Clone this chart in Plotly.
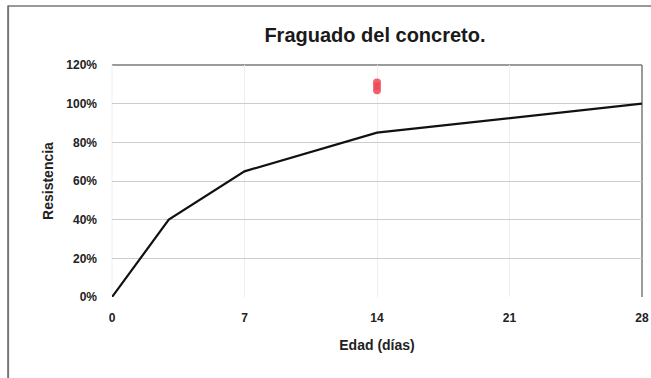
import plotly.graph_objects as go

# Data
edad_dias = [0, 3, 7, 14, 28]
resistencia = [0.0, 0.40, 0.65, 0.85, 1.00]
ensayo_edad = [14, 14, 14]
ensayo_resistencia = [1.07, 1.09, 1.11]
x_ticks = [0, 7, 14, 21, 28]
y_ticks = [0, 0.2, 0.4, 0.6, 0.8, 1.0, 1.2]
y_tick_labels = ["0%", "20%", "40%", "60%", "80%", "100%", "120%"]

FONT = "Liberation Sans Narrow, Arial Narrow, Liberation Sans, Arial, sans-serif"

fig = go.Figure()
fig.add_trace(go.Scatter(
    x=edad_dias, y=resistencia, mode="lines",
    line=dict(color="#111111", width=2.2),
    showlegend=False, hoverinfo="skip", cliponaxis=False))
fig.add_trace(go.Scatter(
    x=ensayo_edad, y=ensayo_resistencia, mode="markers",
    marker=dict(color="rgba(240,70,85,0.85)", size=8, line=dict(width=0)),
    showlegend=False))

fig.update_layout(
    width=651, height=378,
    margin=dict(l=112, r=9, t=65, b=81, autoexpand=False),
    paper_bgcolor="white", plot_bgcolor="white",
    font=dict(family=FONT, color="#222222"),
    title=dict(text="<b>Fraguado del concreto.</b>", x=0.576, xanchor="center",
               y=0.907, yanchor="middle",
               font=dict(family=FONT, size=20, color="#1a1a1a")),
)
fig.update_xaxes(
    range=[0, 28], tickvals=x_ticks, ticktext=[f"<b>{v}</b>" for v in x_ticks],
    showgrid=True, gridcolor="#eeeeee", gridwidth=1, zeroline=False,
    showline=False, ticks="", automargin=False, ticklabelstandoff=12,
    ticklabeloverflow="allow",
    tickfont=dict(size=12, color="#222222"),
    title=dict(text="<b>Edad (días)</b>", font=dict(size=14, color="#222222"), standoff=16),
)
fig.update_yaxes(
    range=[0, 1.2], tickvals=y_ticks, ticktext=[f"<b>{t}</b>" for t in y_tick_labels],
    showgrid=True, gridcolor="#cccccc", gridwidth=1.3, zeroline=False,
    showline=False, ticks="", automargin=False, ticklabelstandoff=14,
    tickfont=dict(size=12, color="#222222"),
    title=dict(text="<b>Resistencia</b>", font=dict(size=14, color="#222222"), standoff=9),
)

# plot area borders (top and right darker)
fig.add_shape(type="line", xref="x domain", yref="y domain", x0=0, x1=1, y0=1, y1=1,
              line=dict(color="#7a7a7a", width=1.5), layer="below")
fig.add_shape(type="line", xref="x domain", yref="y domain", x0=1, x1=1, y0=0, y1=1,
              line=dict(color="#7a7a7a", width=1.5), layer="below")
fig.add_shape(type="line", xref="x domain", yref="y domain", x0=0, x1=0, y0=0, y1=1,
              line=dict(color="#eeeeee", width=1), layer="below")

# outer frame (scanned chart border)
fig.add_shape(type="line", xref="paper", yref="paper", x0=-0.196, x1=1.03, y0=1.254, y1=1.254,
              line=dict(color="#777777", width=1.5))
fig.add_shape(type="line", xref="paper", yref="paper", x0=-0.196, x1=-0.196, y0=1.256, y1=-0.36,
              line=dict(color="#777777", width=2))

# remove the default page margin so the 651x378 figure fills the window exactly
fig.write_html(
    "out.html",
    config={"displayModeBar": False},
    post_script="document.body.style.margin='0';document.body.style.overflow='hidden';",
)
